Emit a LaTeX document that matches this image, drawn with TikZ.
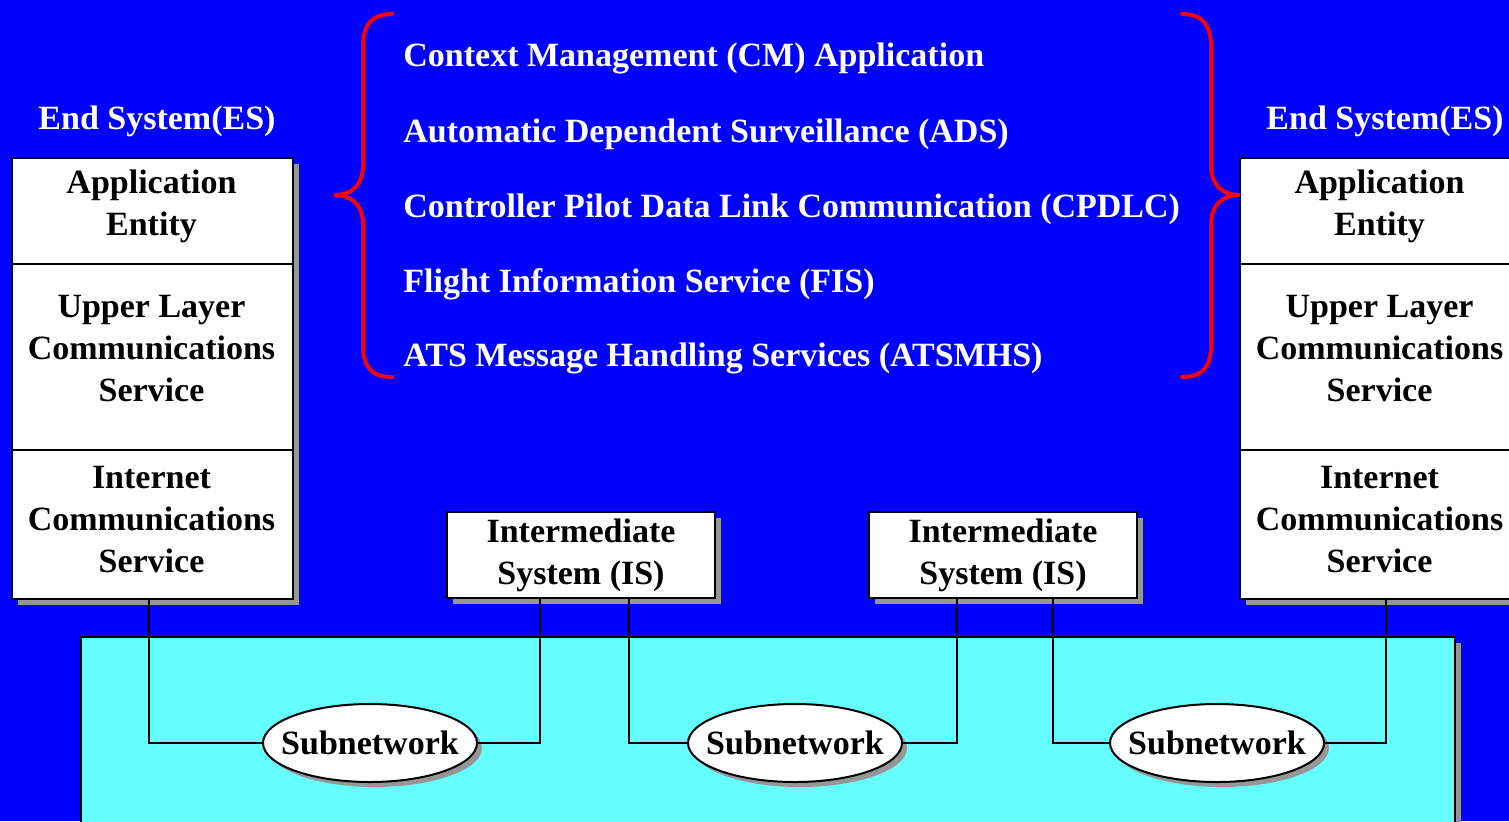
\documentclass[tikz,border=0pt]{standalone}
\usepackage{fontspec}
\setmainfont{Liberation Serif}
\usetikzlibrary{shapes.geometric,shadows}
\definecolor{bgblue}{RGB}{0,0,255}
\definecolor{netcyan}{RGB}{102,255,255}
\definecolor{shadowgray}{RGB}{150,150,150}
\definecolor{bracered}{RGB}{255,0,0}
\tikzset{
  shadowed/.style={drop shadow={shadow xshift=3pt,shadow yshift=-3pt,fill=shadowgray,opacity=1}},
  layerbox/.style={draw=black,line width=1pt,fill=white,shadowed,inner sep=0pt,minimum width=140.5pt},
  isbox/.style={draw=black,line width=1pt,fill=white,shadowed,inner sep=0pt,minimum width=134pt,minimum height=43pt,align=center,font=\bigfont,text=black},
  subnet/.style={ellipse,draw=black,line width=1pt,fill=white,drop shadow={shadow xshift=2.5pt,shadow yshift=-2.5pt,fill=shadowgray,opacity=1},inner sep=0pt,minimum width=107pt,minimum height=39pt},
  boxtext/.style={align=center,font=\bigfont,text=black,inner sep=0pt},
  whitetext/.style={font=\bigfont,text=white,inner sep=0pt},
  wire/.style={draw=black,line width=1pt},
  bracestyle/.style={draw=bracered,line width=2pt,line cap=round}
}
\newcommand{\bigfont}{\fontsize{17}{21}\selectfont\bfseries}
\begin{document}
\begin{tikzpicture}[x=0.5pt,y=-0.5pt]
\useasboundingbox (0,0) rectangle (1509,821);
\fill[bgblue] (0,0) rectangle (1509,821);
% network area
\fill[shadowgray] (87,643) rectangle (1461,840);
\draw[fill=netcyan,line width=1pt] (81,637) rectangle (1455,840);
% left end system
\node[whitetext] (eslabel1) at (157,121) {End System(ES)};
\node[layerbox,minimum height=53pt,anchor=north west] (ae1) at (11,157) {};
\node[layerbox,minimum height=93pt,anchor=north west] (ul1) at (11,263) {};
\node[layerbox,minimum height=74.5pt,anchor=north west] (ic1) at (11,449) {};
\node[boxtext] (ae1t) at (151.5,206) {Application\\Entity};
\node[boxtext] (ul1t) at (151.5,349) {Upper Layer\\Communications\\Service};
\node[boxtext] (ic1t) at (151.5,520) {Internet\\Communications\\Service};
% right end system
\node[whitetext] (eslabel2) at (1385,121) {End System(ES)};
\node[layerbox,minimum height=53pt,anchor=north west] (ae2) at (1239,157) {};
\node[layerbox,minimum height=93pt,anchor=north west] (ul2) at (1239,263) {};
\node[layerbox,minimum height=74.5pt,anchor=north west] (ic2) at (1239,449) {};
\node[boxtext] (ae2t) at (1379.5,206) {Application\\Entity};
\node[boxtext] (ul2t) at (1379.5,349) {Upper Layer\\Communications\\Service};
\node[boxtext] (ic2t) at (1379.5,520) {Internet\\Communications\\Service};
% intermediate systems
\node[isbox] (is1) at (581,555) {Intermediate\\System (IS)};
\node[isbox] (is2) at (1003,555) {Intermediate\\System (IS)};
% subnetworks
\node[subnet] (sn1) at (370,743) {};
\node[subnet] (sn2) at (795,743) {};
\node[subnet] (sn3) at (1217,743) {};
\node[boxtext] (sn1t) at (sn1) {Subnetwork};
\node[boxtext] (sn2t) at (sn2) {Subnetwork};
\node[boxtext] (sn3t) at (sn3) {Subnetwork};
% wires
\draw[wire] ([xshift=-1.75pt]ic1.south) |- (sn1.west);
\draw[wire] (sn1.east) -| ([xshift=-20.5pt]is1.south);
\draw[wire] ([xshift=24pt]is1.south) |- (sn2.west);
\draw[wire] (sn2.east) -| ([xshift=-23pt]is2.south);
\draw[wire] ([xshift=25pt]is2.south) |- (sn3.west);
\draw[wire] (sn3.east) -| ([xshift=2.75pt]ic2.south);
% applications list
\node[whitetext,anchor=west] (app1) at (403,58) {Context Management (CM) Application};
\node[whitetext,anchor=west] (app2) at (403,134) {Automatic Dependent Surveillance (ADS)};
\node[whitetext,anchor=west] (app3) at (403,209) {Controller Pilot Data Link Communication (CPDLC)};
\node[whitetext,anchor=west] (app4) at (403,284) {Flight Information Service (FIS)};
\node[whitetext,anchor=west] (app5) at (403,358) {ATS Message Handling Services (ATSMHS)};
% braces
\draw[bracestyle] (392,14) .. controls (371,14) and (363,26) .. (363,46) -- (363,165)
  .. controls (363,185) and (352,195) .. (334,195)
  .. controls (352,195) and (363,205) .. (363,225) -- (363,346)
  .. controls (363,366) and (371,377) .. (392,377);
\draw[bracestyle] (1182,14) .. controls (1203,14) and (1211,26) .. (1211,46) -- (1211,165)
  .. controls (1211,185) and (1222,195) .. (1240,195)
  .. controls (1222,195) and (1211,205) .. (1211,225) -- (1211,346)
  .. controls (1211,366) and (1203,377) .. (1182,377);
\end{tikzpicture}
\end{document}
